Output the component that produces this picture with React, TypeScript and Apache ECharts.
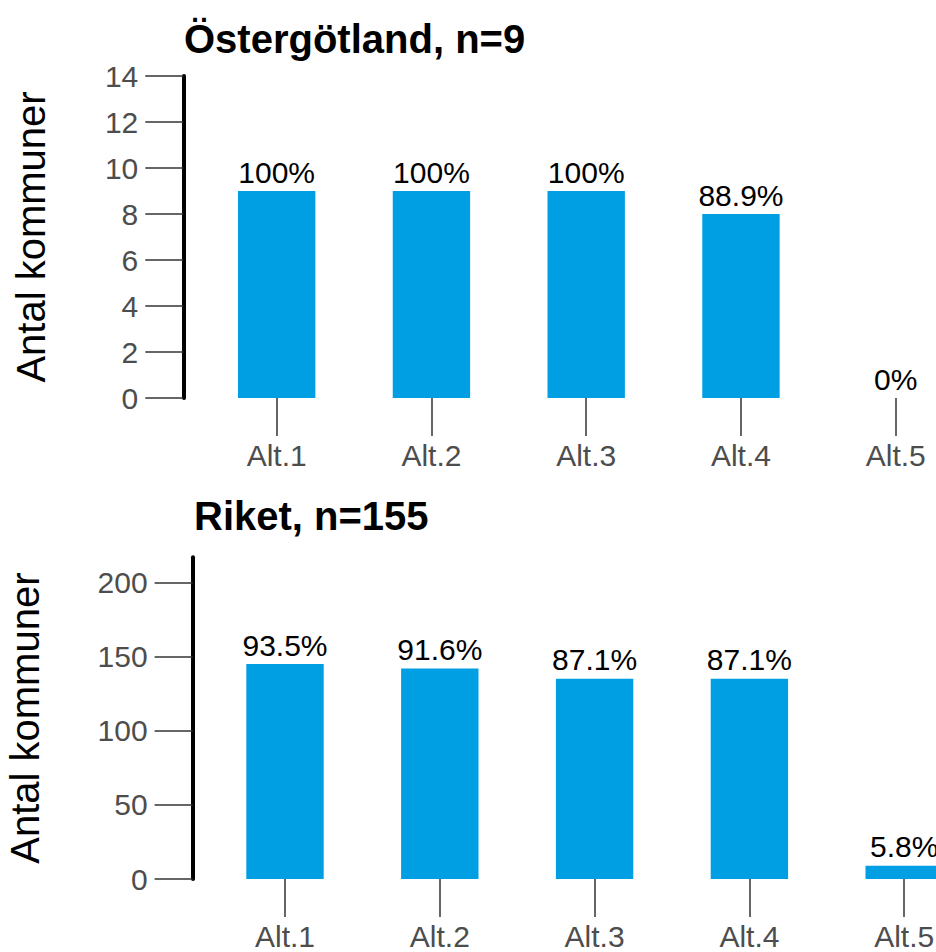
import React, { useEffect, useRef } from "react";
import * as echarts from "echarts";

const categories = ["Alt.1", "Alt.2", "Alt.3", "Alt.4", "Alt.5"];
const ostValues = [9, 9, 9, 8, 0];
const ostLabels = ["100%", "100%", "100%", "88.9%", "0%"];
const riketValues = [145, 142, 135, 135, 9];
const riketLabels = ["93.5%", "91.6%", "87.1%", "87.1%", "5.8%"];
const riketTicks = [0, 50, 100, 150, 200];
const titleTop = "Östergötland, n=9";
const titleBottom = "Riket, n=155";
const yName = "Antal kommuner";

const FONT = '"Liberation Sans", Arial, Helvetica, sans-serif';
const BAR = "#009fe3";
const TICK = "#333333";
const LABEL = "#4d4d4d";

function xAxisCfg(gridIndex: number) {
  return {
    type: "category",
    gridIndex,
    data: categories,
    axisLine: { show: false },
    axisTick: {
      show: true,
      alignWithLabel: true,
      length: 38,
      lineStyle: { color: TICK, width: 1.5 },
    },
    axisLabel: { fontSize: 30, color: LABEL, margin: 42, fontFamily: FONT },
    splitLine: { show: false },
  };
}

export default function App() {
  const ref = useRef<HTMLDivElement>(null);
  useEffect(() => {
    if (!ref.current) return;
    const chart = echarts.init(ref.current, undefined, { renderer: "svg" });
    const yCommon = {
      type: "value",
      nameLocation: "middle",
      nameTextStyle: { fontSize: 40, color: "#000", fontFamily: FONT },
      axisLine: { show: true, lineStyle: { color: "#000", width: 4 } },
      axisTick: { show: true, length: 38, lineStyle: { color: TICK, width: 1.5 } },
      axisLabel: { fontSize: 30, color: LABEL, margin: 45, fontFamily: FONT },
      splitLine: { show: false },
    };
    chart.setOption({
      animation: false,
      textStyle: { fontFamily: FONT },
      title: [
        {
          text: titleTop,
          left: 184,
          top: 19,
          padding: 0,
          textStyle: { fontSize: 40, fontWeight: "bold", color: "#000", fontFamily: FONT },
        },
        {
          text: titleBottom,
          left: 194,
          top: 496,
          padding: 0,
          textStyle: { fontSize: 40, fontWeight: "bold", color: "#000", fontFamily: FONT },
        },
      ],
      grid: [
        { left: 199.3, top: 76, width: 773.8, height: 322, outerBoundsMode: "none", containLabel: false },
        { left: 207.6, top: 557.3, width: 774, height: 321.7, outerBoundsMode: "none", containLabel: false },
      ],
      xAxis: [xAxisCfg(0), xAxisCfg(1)],
      yAxis: [
        {
          ...yCommon,
          gridIndex: 0,
          min: 0,
          max: 14,
          interval: 2,
          offset: 16,
          name: yName,
          nameGap: 132,
        },
        {
          ...yCommon,
          gridIndex: 1,
          min: 0,
          max: 217,
          interval: 50,
          offset: 15,
          name: yName,
          nameGap: 148,
          axisTick: { ...yCommon.axisTick, customValues: riketTicks },
          axisLabel: { ...yCommon.axisLabel, customValues: riketTicks },
        },
      ],
      series: [
        {
          type: "bar",
          xAxisIndex: 0,
          yAxisIndex: 0,
          data: ostValues,
          barWidth: "50%",
          itemStyle: { color: BAR },
          label: {
            show: true,
            position: "top",
            distance: 4,
            fontSize: 30,
            color: "#000",
            fontFamily: FONT,
            formatter: (p: any) => ostLabels[p.dataIndex],
          },
        },
        {
          type: "bar",
          xAxisIndex: 1,
          yAxisIndex: 1,
          data: riketValues,
          barWidth: "50%",
          itemStyle: { color: BAR },
          label: {
            show: true,
            position: "top",
            distance: 4,
            fontSize: 30,
            color: "#000",
            fontFamily: FONT,
            formatter: (p: any) => riketLabels[p.dataIndex],
          },
        },
      ],
    });
    return () => chart.dispose();
  }, []);
  return (
    <div
      style={{
        position: "fixed",
        left: 0,
        top: 0,
        width: 936,
        height: 952,
        overflow: "hidden",
        background: "#fff",
      }}
    >
      <div ref={ref} style={{ width: 1000, height: 952 }} />
    </div>
  );
}
